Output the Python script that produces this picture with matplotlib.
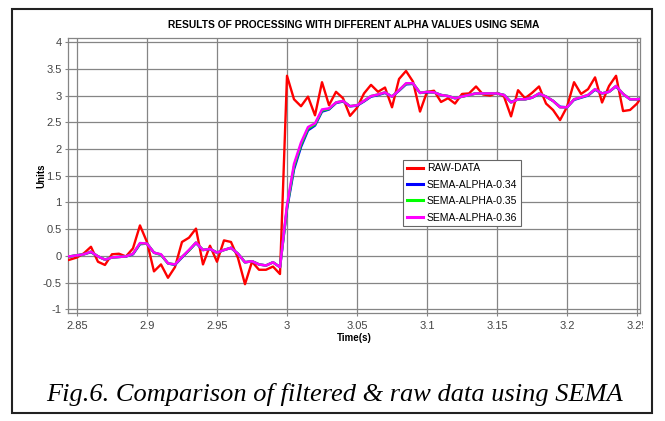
import numpy as np
import matplotlib
matplotlib.use("Agg")
import matplotlib.pyplot as plt
from matplotlib import font_manager
from matplotlib.patches import Rectangle
from matplotlib.transforms import Bbox, TransformedBbox

# ---------------- data ----------------
t_start = 2.84
dt = 0.005

raw = [-0.10, -0.07, -0.03, 0.05, 0.17, -0.11, -0.17, 0.03, 0.04, -0.01,
       0.14, 0.57, 0.26, -0.29, -0.16, -0.41, -0.21, 0.26, 0.34, 0.51,
       -0.16, 0.19, -0.11, 0.29, 0.26, -0.04, -0.53, -0.11, -0.26, -0.26,
       -0.20, -0.34,
       3.37, 2.93, 2.80, 2.98, 2.63, 3.25, 2.82, 3.07, 2.95, 2.62,
       2.77, 3.04, 3.20, 3.07, 3.15, 2.78, 3.31, 3.46, 3.26, 2.70,
       3.07, 3.09, 2.88, 2.95, 2.85, 3.03, 3.04, 3.17, 3.02, 3.00,
       3.05, 2.98, 2.61, 3.10, 2.95, 3.05, 3.17, 2.85, 2.73, 2.54,
       2.79, 3.25, 3.03, 3.12, 3.34, 2.87, 3.18, 3.37, 2.71, 2.73,
       2.85, 3.05]

sema_034 = [0.00, -0.01, 0.01, 0.03, 0.07, -0.01, -0.07, -0.03, -0.02, -0.01,
            0.03, 0.22, 0.23, 0.06, 0.02, -0.14, -0.17, -0.03, 0.10, 0.24,
            0.11, 0.13, 0.06, 0.11, 0.15, 0.04, -0.12, -0.10, -0.16, -0.18,
            -0.12, -0.21,
            0.88, 1.62, 2.04, 2.35, 2.44, 2.70, 2.74, 2.86, 2.89, 2.80,
            2.81, 2.89, 2.98, 3.01, 3.05, 2.98, 3.09, 3.21, 3.22, 3.05,
            3.06, 3.06, 3.01, 2.99, 2.95, 2.98, 3.01, 3.04, 3.04, 3.04,
            3.04, 3.01, 2.88, 2.93, 2.93, 2.96, 3.03, 2.98, 2.90, 2.79,
            2.78, 2.92, 2.96, 3.00, 3.11, 3.04, 3.07, 3.17, 3.03, 2.93,
            2.93, 2.95]

sema_035 = [0.00, -0.01, 0.01, 0.03, 0.08, -0.01, -0.07, -0.03, -0.02, -0.01,
            0.04, 0.23, 0.23, 0.06, 0.02, -0.14, -0.16, -0.02, 0.10, 0.25,
            0.11, 0.13, 0.06, 0.11, 0.15, 0.04, -0.12, -0.10, -0.16, -0.18,
            -0.12, -0.21,
            0.91, 1.67, 2.08, 2.38, 2.46, 2.72, 2.75, 2.87, 2.90, 2.80,
            2.82, 2.90, 2.99, 3.02, 3.06, 2.98, 3.10, 3.22, 3.23, 3.05,
            3.07, 3.06, 3.01, 2.99, 2.95, 2.98, 3.01, 3.04, 3.04, 3.04,
            3.04, 3.01, 2.87, 2.93, 2.93, 2.96, 3.04, 2.98, 2.90, 2.78,
            2.78, 2.93, 2.97, 3.01, 3.12, 3.04, 3.07, 3.18, 3.03, 2.93,
            2.93, 2.95]

sema_036 = [0.00, -0.01, 0.01, 0.03, 0.08, -0.01, -0.07, -0.03, -0.02, -0.01,
            0.04, 0.24, 0.23, 0.06, 0.03, -0.14, -0.16, -0.02, 0.11, 0.25,
            0.11, 0.13, 0.06, 0.11, 0.15, 0.04, -0.12, -0.10, -0.16, -0.18,
            -0.12, -0.21,
            0.95, 1.72, 2.12, 2.41, 2.48, 2.74, 2.76, 2.87, 2.90, 2.80,
            2.82, 2.90, 2.99, 3.02, 3.06, 2.98, 3.10, 3.23, 3.23, 3.05,
            3.07, 3.06, 3.01, 2.99, 2.95, 2.98, 3.01, 3.04, 3.04, 3.04,
            3.04, 3.01, 2.87, 2.93, 2.93, 2.96, 3.04, 2.98, 2.90, 2.78,
            2.78, 2.93, 2.97, 3.01, 3.12, 3.04, 3.07, 3.18, 3.03, 2.93,
            2.93, 2.95]

series_labels = ["RAW-DATA", "SEMA-ALPHA-0.34", "SEMA-ALPHA-0.35", "SEMA-ALPHA-0.36"]
x_ticks = [2.85, 2.9, 2.95, 3.0, 3.05, 3.1, 3.15, 3.2, 3.25]
y_ticks = [-1, -0.5, 0, 0.5, 1, 1.5, 2, 2.5, 3, 3.5, 4]

title = "RESULTS OF PROCESSING WITH DIFFERENT ALPHA VALUES USING SEMA"
caption = "Fig.6. Comparison of filtered & raw data using SEMA"

time = np.round(t_start + dt * np.arange(len(raw)), 3)

# ---------------- fonts ----------------
names = {f.name for f in font_manager.fontManager.ttflist}
narrow = "Liberation Sans Narrow" if "Liberation Sans Narrow" in names else "Liberation Sans"
plt.rcParams["font.family"] = [narrow, "DejaVu Sans"]
plt.rcParams["axes.unicode_minus"] = False

W, H = 665, 421
fig = plt.figure(figsize=(W / 100, H / 100), dpi=100)
fig.patch.set_facecolor("white")

# axes placement (pixel based)
L, R, T, B = 68, 640, 38, 313
ax = fig.add_axes([L / W, 1 - B / H, (R - L) / W, (B - T) / H])

ax.plot(time, raw, color="#ff0000", lw=1.7, label=series_labels[0], zorder=3)
ax.plot(time, sema_034, color="#0000ff", lw=1.8, label=series_labels[1], zorder=4)
ax.plot(time, sema_035, color="#00ff00", lw=1.8, label=series_labels[2], zorder=5)
ax.plot(time, sema_036, color="#ff00ff", lw=1.8, label=series_labels[3], zorder=6)

ax.set_xlim(2.8436, 3.2521)
ax.set_ylim(-1.069, 4.077)
ax.set_xticks(x_ticks)
ax.set_yticks(y_ticks)
ax.set_xticklabels([f"{v:g}" for v in x_ticks])
ax.set_yticklabels([f"{v:g}" for v in y_ticks])
ax.grid(True, color="#858585", lw=0.9)
ax.set_axisbelow(True)
for s in ax.spines.values():
    s.set_color("#858585")
    s.set_linewidth(0.9)
ax.tick_params(axis="both", length=2.5, width=0.8, color="#858585",
               labelsize=8, labelcolor="#444444")
ax.tick_params(axis="x", pad=3)
ax.tick_params(axis="y", pad=2)

# clip the last x tick label at the plot's right edge, as in the reference
clipbox = TransformedBbox(Bbox([[0, 0], [643 / W, 1]]), fig.transFigure)
for lbl in ax.get_xticklabels():
    lbl.set_clip_on(True)
    lbl.set_clip_box(clipbox)

ax.set_xlabel("Time(s)", fontsize=7, fontweight="bold", labelpad=2)
ax.set_ylabel("Units", fontsize=7, fontweight="bold")
ax.yaxis.set_label_coords((46.5 - L) / (R - L), 0.5)

fig.text((L + R) / 2 / W, 1 - 25 / H, title, ha="center", va="center",
         fontsize=7.4, fontweight="bold")

leg = ax.legend(loc="upper left", bbox_to_anchor=((403 - L) / (R - L), (B - 159.5) / (B - T)),
                borderaxespad=0, fancybox=False, framealpha=1, edgecolor="#666666",
                fontsize=7.5, handlelength=1.6, handletextpad=0.35, labelspacing=0.62,
                borderpad=0.35)
leg.get_frame().set_linewidth(0.8)
for line in leg.get_lines():
    line.set_linewidth(2.2)

fig.text(335 / W, 1 - 401 / H, caption, ha="center", va="baseline",
         fontsize=19, style="italic", family=["Liberation Serif", "DejaVu Serif"])

fig.patches.append(Rectangle((12 / W, 1 - 413 / H), 640 / W, 404 / H,
                             transform=fig.transFigure, fill=False,
                             edgecolor="#222222", lw=1.5))

fig.savefig("out.png", dpi=100)
